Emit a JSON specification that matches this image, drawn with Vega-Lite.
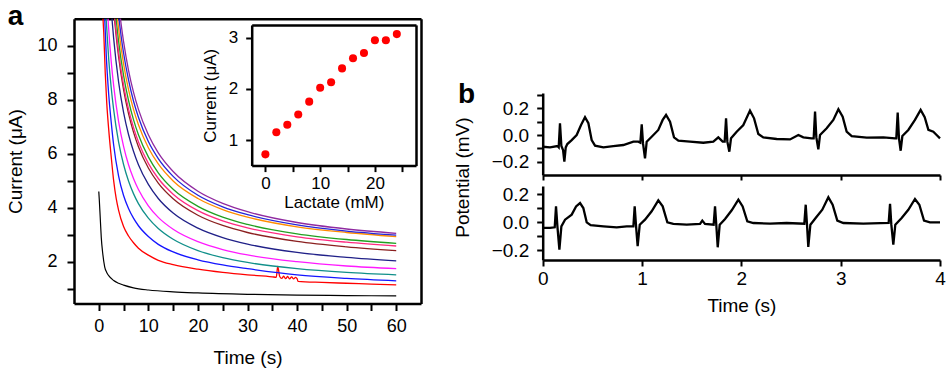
{
  "$schema": "https://vega.github.io/schema/vega-lite/v6.json",
  "width": 946,
  "height": 370,
  "autosize": "none",
  "padding": 0,
  "background": "white",
  "config": {
    "view": {"stroke": null},
    "axis": {
      "domainColor": "#000000", "tickColor": "#000000", "labelColor": "#000000", "titleColor": "#000000",
      "labelFont": "Liberation Sans", "titleFont": "Liberation Sans", "titleFontWeight": "normal",
      "grid": false, "labelFlush": false, "labelOverlap": false, "labelBound": false
    }
  },
  "datasets": {
    "curves": [
      {"curve":"black","time":0,"current":4.6},{"curve":"black","time":0.1,"current":4.3},{"curve":"black","time":0.3,"current":3.6},{"curve":"black","time":0.5,"current":2.9},{"curve":"black","time":0.8,"current":2.3},{"curve":"black","time":1.2,"current":1.8},{"curve":"black","time":1.6,"current":1.6},{"curve":"black","time":2,"current":1.48},{"curve":"black","time":3,"current":1.3},{"curve":"black","time":4,"current":1.2},{"curve":"black","time":5,"current":1.13},{"curve":"black","time":7,"current":1.03},{"curve":"black","time":10,"current":0.95},{"curve":"black","time":15,"current":0.88},{"curve":"black","time":20,"current":0.84},{"curve":"black","time":30,"current":0.79},{"curve":"black","time":40,"current":0.76},{"curve":"black","time":50,"current":0.745},{"curve":"black","time":60,"current":0.73},
      {"curve":"red","time":0.85,"current":11},{"curve":"red","time":1.0,"current":10.5},{"curve":"red","time":1.3,"current":9.0},{"curve":"red","time":1.6,"current":7.9},{"curve":"red","time":2.0,"current":6.9},{"curve":"red","time":2.5,"current":5.9},{"curve":"red","time":3,"current":5.0},{"curve":"red","time":3.5,"current":4.35},{"curve":"red","time":4,"current":3.9},{"curve":"red","time":5,"current":3.3},{"curve":"red","time":6,"current":2.95},{"curve":"red","time":7,"current":2.7},{"curve":"red","time":8,"current":2.5},{"curve":"red","time":10,"current":2.24},{"curve":"red","time":12,"current":2.05},{"curve":"red","time":15,"current":1.89},{"curve":"red","time":20,"current":1.72},{"curve":"red","time":25,"current":1.6},{"curve":"red","time":30,"current":1.51},{"curve":"red","time":35,"current":1.44},{"curve":"red","time":35.8,"current":1.42},{"curve":"red","time":36.1,"current":1.82},{"curve":"red","time":36.5,"current":1.45},{"curve":"red","time":36.9,"current":1.38},{"curve":"red","time":37.3,"current":1.46},{"curve":"red","time":37.7,"current":1.37},{"curve":"red","time":38.1,"current":1.45},{"curve":"red","time":38.5,"current":1.36},{"curve":"red","time":38.9,"current":1.44},{"curve":"red","time":39.3,"current":1.36},{"curve":"red","time":39.7,"current":1.42},{"curve":"red","time":40,"current":1.37},{"curve":"red","time":40.2,"current":1.27},{"curve":"red","time":45,"current":1.23},{"curve":"red","time":50,"current":1.2},{"curve":"red","time":55,"current":1.17},{"curve":"red","time":60,"current":1.14},
      {"curve":"blue","time":1.2,"current":11},{"curve":"blue","time":1.5,"current":9.67},{"curve":"blue","time":2,"current":8.2},{"curve":"blue","time":2.5,"current":7.18},{"curve":"blue","time":3,"current":6.32},{"curve":"blue","time":4,"current":5.17},{"curve":"blue","time":5,"current":4.45},{"curve":"blue","time":6,"current":3.97},{"curve":"blue","time":7,"current":3.61},{"curve":"blue","time":8,"current":3.33},{"curve":"blue","time":10,"current":2.93},{"curve":"blue","time":12,"current":2.64},{"curve":"blue","time":15,"current":2.36},{"curve":"blue","time":20,"current":2.07},{"curve":"blue","time":25,"current":1.88},{"curve":"blue","time":30,"current":1.74},{"curve":"blue","time":40,"current":1.51},{"curve":"blue","time":50,"current":1.38},{"curve":"blue","time":60,"current":1.29},
      {"curve":"teal","time":1.48,"current":11},{"curve":"teal","time":2,"current":9.51},{"curve":"teal","time":2.5,"current":8.45},{"curve":"teal","time":3,"current":7.63},{"curve":"teal","time":4,"current":6.43},{"curve":"teal","time":5,"current":5.6},{"curve":"teal","time":6,"current":4.99},{"curve":"teal","time":7,"current":4.52},{"curve":"teal","time":8,"current":4.15},{"curve":"teal","time":10,"current":3.61},{"curve":"teal","time":12,"current":3.23},{"curve":"teal","time":15,"current":2.83},{"curve":"teal","time":20,"current":2.41},{"curve":"teal","time":25,"current":2.15},{"curve":"teal","time":30,"current":1.97},{"curve":"teal","time":40,"current":1.74},{"curve":"teal","time":50,"current":1.6},{"curve":"teal","time":60,"current":1.51},
      {"curve":"magenta","time":1.86,"current":11},{"curve":"magenta","time":2,"current":10.61},{"curve":"magenta","time":2.5,"current":9.43},{"curve":"magenta","time":3,"current":8.52},{"curve":"magenta","time":4,"current":7.19},{"curve":"magenta","time":5,"current":6.27},{"curve":"magenta","time":6,"current":5.59},{"curve":"magenta","time":7,"current":5.08},{"curve":"magenta","time":8,"current":4.67},{"curve":"magenta","time":10,"current":4.07},{"curve":"magenta","time":12,"current":3.64},{"curve":"magenta","time":15,"current":3.2},{"curve":"magenta","time":20,"current":2.74},{"curve":"magenta","time":25,"current":2.45},{"curve":"magenta","time":30,"current":2.25},{"curve":"magenta","time":40,"current":2.0},{"curve":"magenta","time":50,"current":1.84},{"curve":"magenta","time":60,"current":1.74},
      {"curve":"navy","time":2.66,"current":11},{"curve":"navy","time":3,"current":10.27},{"curve":"navy","time":4,"current":8.65},{"curve":"navy","time":5,"current":7.53},{"curve":"navy","time":6,"current":6.71},{"curve":"navy","time":7,"current":6.09},{"curve":"navy","time":8,"current":5.59},{"curve":"navy","time":10,"current":4.86},{"curve":"navy","time":12,"current":4.34},{"curve":"navy","time":15,"current":3.8},{"curve":"navy","time":20,"current":3.24},{"curve":"navy","time":25,"current":2.89},{"curve":"navy","time":30,"current":2.65},{"curve":"navy","time":40,"current":2.34},{"curve":"navy","time":50,"current":2.16},{"curve":"navy","time":60,"current":2.03},
      {"curve":"brown","time":3.16,"current":11},{"curve":"brown","time":3.5,"current":10.37},{"curve":"brown","time":4,"current":9.58},{"curve":"brown","time":5,"current":8.37},{"curve":"brown","time":6,"current":7.48},{"curve":"brown","time":7,"current":6.8},{"curve":"brown","time":8,"current":6.26},{"curve":"brown","time":10,"current":5.47},{"curve":"brown","time":12,"current":4.91},{"curve":"brown","time":15,"current":4.33},{"curve":"brown","time":20,"current":3.72},{"curve":"brown","time":25,"current":3.34},{"curve":"brown","time":30,"current":3.08},{"curve":"brown","time":40,"current":2.75},{"curve":"brown","time":50,"current":2.55},{"curve":"brown","time":60,"current":2.41},
      {"curve":"pink","time":3.25,"current":11},{"curve":"pink","time":3.5,"current":10.54},{"curve":"pink","time":4,"current":9.75},{"curve":"pink","time":5,"current":8.54},{"curve":"pink","time":6,"current":7.65},{"curve":"pink","time":7,"current":6.97},{"curve":"pink","time":8,"current":6.43},{"curve":"pink","time":10,"current":5.64},{"curve":"pink","time":12,"current":5.08},{"curve":"pink","time":15,"current":4.5},{"curve":"pink","time":20,"current":3.89},{"curve":"pink","time":25,"current":3.51},{"curve":"pink","time":30,"current":3.25},{"curve":"pink","time":40,"current":2.92},{"curve":"pink","time":50,"current":2.72},{"curve":"pink","time":60,"current":2.58},
      {"curve":"green","time":3.49,"current":11},{"curve":"green","time":4,"current":10.16},{"curve":"green","time":5,"current":8.9},{"curve":"green","time":6,"current":7.97},{"curve":"green","time":7,"current":7.26},{"curve":"green","time":8,"current":6.7},{"curve":"green","time":10,"current":5.88},{"curve":"green","time":12,"current":5.29},{"curve":"green","time":15,"current":4.68},{"curve":"green","time":20,"current":4.05},{"curve":"green","time":25,"current":3.65},{"curve":"green","time":30,"current":3.38},{"curve":"green","time":40,"current":3.03},{"curve":"green","time":50,"current":2.82},{"curve":"green","time":60,"current":2.68},
      {"curve":"orange","time":3.77,"current":11},{"curve":"orange","time":4,"current":10.63},{"curve":"orange","time":5,"current":9.33},{"curve":"orange","time":6,"current":8.37},{"curve":"orange","time":7,"current":7.64},{"curve":"orange","time":8,"current":7.07},{"curve":"orange","time":10,"current":6.22},{"curve":"orange","time":12,"current":5.62},{"curve":"orange","time":15,"current":4.99},{"curve":"orange","time":20,"current":4.34},{"curve":"orange","time":25,"current":3.93},{"curve":"orange","time":30,"current":3.65},{"curve":"orange","time":40,"current":3.29},{"curve":"orange","time":50,"current":3.08},{"curve":"orange","time":60,"current":2.93},
      {"curve":"darkblue","time":4.07,"current":11},{"curve":"darkblue","time":4.5,"current":10.36},{"curve":"darkblue","time":5,"current":9.73},{"curve":"darkblue","time":6,"current":8.73},{"curve":"darkblue","time":7,"current":7.95},{"curve":"darkblue","time":8,"current":7.35},{"curve":"darkblue","time":10,"current":6.45},{"curve":"darkblue","time":12,"current":5.82},{"curve":"darkblue","time":15,"current":5.16},{"curve":"darkblue","time":20,"current":4.46},{"curve":"darkblue","time":25,"current":4.03},{"curve":"darkblue","time":30,"current":3.74},{"curve":"darkblue","time":40,"current":3.36},{"curve":"darkblue","time":50,"current":3.13},{"curve":"darkblue","time":60,"current":2.98},
      {"curve":"purple","time":4.37,"current":11},{"curve":"purple","time":4.5,"current":10.81},{"curve":"purple","time":5,"current":10.15},{"curve":"purple","time":6,"current":9.09},{"curve":"purple","time":7,"current":8.28},{"curve":"purple","time":8,"current":7.64},{"curve":"purple","time":10,"current":6.7},{"curve":"purple","time":12,"current":6.03},{"curve":"purple","time":15,"current":5.34},{"curve":"purple","time":20,"current":4.61},{"curve":"purple","time":25,"current":4.16},{"curve":"purple","time":30,"current":3.85},{"curve":"purple","time":40,"current":3.45},{"curve":"purple","time":50,"current":3.21},{"curve":"purple","time":60,"current":3.05}
    ],
    "inset": [
      {"lactate":0,"current":0.72},{"lactate":2,"current":1.15},{"lactate":4,"current":1.3},{"lactate":6,"current":1.5},{"lactate":8,"current":1.75},{"lactate":10,"current":2.02},{"lactate":12,"current":2.13},{"lactate":14,"current":2.4},{"lactate":16,"current":2.6},{"lactate":18,"current":2.7},{"lactate":20,"current":2.95},{"lactate":22,"current":2.95},{"lactate":24,"current":3.07}
    ],
    "ecg": [
      {"trace":"top","t":0,"v":-0.088},{"trace":"top","t":0.074,"v":-0.093},{"trace":"top","t":0.148,"v":-0.083},{"trace":"top","t":0.161,"v":-0.093},{"trace":"top","t":0.174,"v":0.088},{"trace":"top","t":0.188,"v":-0.083},{"trace":"top","t":0.205,"v":-0.113},{"trace":"top","t":0.218,"v":-0.2},{"trace":"top","t":0.232,"v":-0.093},{"trace":"top","t":0.248,"v":-0.068},{"trace":"top","t":0.292,"v":-0.038},{"trace":"top","t":0.342,"v":0.0},{"trace":"top","t":0.386,"v":0.075},{"trace":"top","t":0.426,"v":0.133},{"trace":"top","t":0.46,"v":0.088},{"trace":"top","t":0.493,"v":-0.038},{"trace":"top","t":0.527,"v":-0.08},{"trace":"top","t":0.611,"v":-0.093},{"trace":"top","t":0.711,"v":-0.083},{"trace":"top","t":0.812,"v":-0.075},{"trace":"top","t":0.913,"v":-0.05},{"trace":"top","t":0.963,"v":-0.05},
      {"trace":"top","t":0.983,"v":-0.058},{"trace":"top","t":0.997,"v":0.08},{"trace":"top","t":1.01,"v":-0.063},{"trace":"top","t":1.03,"v":-0.175},{"trace":"top","t":1.047,"v":-0.05},{"trace":"top","t":1.097,"v":-0.013},{"trace":"top","t":1.164,"v":0.038},{"trace":"top","t":1.208,"v":0.113},{"trace":"top","t":1.242,"v":0.15},{"trace":"top","t":1.282,"v":0.1},{"trace":"top","t":1.322,"v":-0.018},{"trace":"top","t":1.366,"v":-0.043},{"trace":"top","t":1.483,"v":-0.05},{"trace":"top","t":1.617,"v":-0.058},{"trace":"top","t":1.718,"v":-0.05},{"trace":"top","t":1.768,"v":-0.018},{"trace":"top","t":1.812,"v":-0.05},
      {"trace":"top","t":1.832,"v":-0.05},{"trace":"top","t":1.846,"v":0.125},{"trace":"top","t":1.859,"v":-0.05},{"trace":"top","t":1.879,"v":-0.125},{"trace":"top","t":1.896,"v":-0.025},{"trace":"top","t":1.953,"v":0.025},{"trace":"top","t":2.02,"v":0.075},{"trace":"top","t":2.087,"v":0.183},{"trace":"top","t":2.128,"v":0.125},{"trace":"top","t":2.171,"v":0.008},{"trace":"top","t":2.221,"v":-0.018},{"trace":"top","t":2.356,"v":-0.03},{"trace":"top","t":2.49,"v":-0.033},{"trace":"top","t":2.574,"v":0.0},{"trace":"top","t":2.624,"v":-0.018},{"trace":"top","t":2.708,"v":-0.025},
      {"trace":"top","t":2.728,"v":-0.025},{"trace":"top","t":2.742,"v":0.175},{"trace":"top","t":2.755,"v":-0.018},{"trace":"top","t":2.775,"v":-0.108},{"trace":"top","t":2.792,"v":0.0},{"trace":"top","t":2.859,"v":0.05},{"trace":"top","t":2.926,"v":0.113},{"trace":"top","t":2.977,"v":0.193},{"trace":"top","t":3.02,"v":0.138},{"trace":"top","t":3.06,"v":0.025},{"trace":"top","t":3.111,"v":-0.008},{"trace":"top","t":3.262,"v":-0.02},{"trace":"top","t":3.43,"v":-0.018},{"trace":"top","t":3.547,"v":-0.025},
      {"trace":"top","t":3.56,"v":-0.025},{"trace":"top","t":3.574,"v":0.168},{"trace":"top","t":3.587,"v":-0.025},{"trace":"top","t":3.604,"v":-0.118},{"trace":"top","t":3.621,"v":-0.008},{"trace":"top","t":3.681,"v":0.038},{"trace":"top","t":3.748,"v":0.113},{"trace":"top","t":3.805,"v":0.188},{"trace":"top","t":3.846,"v":0.133},{"trace":"top","t":3.883,"v":0.038},{"trace":"top","t":3.933,"v":0.025},{"trace":"top","t":3.966,"v":0.0},{"trace":"top","t":4.0,"v":-0.025},
      {"trace":"bottom","t":0,"v":-0.04},{"trace":"bottom","t":0.074,"v":-0.04},{"trace":"bottom","t":0.121,"v":-0.036},{"trace":"bottom","t":0.134,"v":0.114},{"trace":"bottom","t":0.148,"v":-0.029},{"trace":"bottom","t":0.168,"v":-0.195},{"trace":"bottom","t":0.188,"v":-0.029},{"trace":"bottom","t":0.225,"v":0.019},{"trace":"bottom","t":0.292,"v":0.055},{"trace":"bottom","t":0.336,"v":0.114},{"trace":"bottom","t":0.376,"v":0.138},{"trace":"bottom","t":0.409,"v":0.102},{"trace":"bottom","t":0.443,"v":0.0},{"trace":"bottom","t":0.483,"v":-0.021},{"trace":"bottom","t":0.611,"v":-0.029},{"trace":"bottom","t":0.745,"v":-0.036},{"trace":"bottom","t":0.846,"v":-0.029},{"trace":"bottom","t":0.913,"v":-0.029},
      {"trace":"bottom","t":0.926,"v":0.114},{"trace":"bottom","t":0.94,"v":-0.029},{"trace":"bottom","t":0.956,"v":-0.171},{"trace":"bottom","t":0.977,"v":-0.017},{"trace":"bottom","t":1.03,"v":0.019},{"trace":"bottom","t":1.097,"v":0.079},{"trace":"bottom","t":1.164,"v":0.157},{"trace":"bottom","t":1.208,"v":0.114},{"trace":"bottom","t":1.255,"v":0.0},{"trace":"bottom","t":1.315,"v":-0.012},{"trace":"bottom","t":1.45,"v":-0.017},{"trace":"bottom","t":1.584,"v":-0.012},{"trace":"bottom","t":1.607,"v":0.012},{"trace":"bottom","t":1.634,"v":-0.012},{"trace":"bottom","t":1.721,"v":-0.017},
      {"trace":"bottom","t":1.735,"v":0.114},{"trace":"bottom","t":1.748,"v":-0.021},{"trace":"bottom","t":1.762,"v":-0.179},{"trace":"bottom","t":1.782,"v":-0.017},{"trace":"bottom","t":1.836,"v":0.024},{"trace":"bottom","t":1.903,"v":0.086},{"trace":"bottom","t":1.97,"v":0.162},{"trace":"bottom","t":2.013,"v":0.114},{"trace":"bottom","t":2.06,"v":0.007},{"trace":"bottom","t":2.121,"v":-0.005},{"trace":"bottom","t":2.289,"v":-0.01},{"trace":"bottom","t":2.456,"v":-0.005},{"trace":"bottom","t":2.634,"v":-0.01},
      {"trace":"bottom","t":2.648,"v":0.126},{"trace":"bottom","t":2.661,"v":-0.017},{"trace":"bottom","t":2.674,"v":-0.176},{"trace":"bottom","t":2.695,"v":-0.017},{"trace":"bottom","t":2.748,"v":0.031},{"trace":"bottom","t":2.815,"v":0.09},{"trace":"bottom","t":2.876,"v":0.179},{"trace":"bottom","t":2.919,"v":0.126},{"trace":"bottom","t":2.966,"v":0.012},{"trace":"bottom","t":3.027,"v":-0.005},{"trace":"bottom","t":3.228,"v":-0.01},{"trace":"bottom","t":3.483,"v":-0.005},
      {"trace":"bottom","t":3.497,"v":0.133},{"trace":"bottom","t":3.51,"v":-0.017},{"trace":"bottom","t":3.53,"v":-0.16},{"trace":"bottom","t":3.55,"v":-0.017},{"trace":"bottom","t":3.614,"v":0.031},{"trace":"bottom","t":3.681,"v":0.09},{"trace":"bottom","t":3.748,"v":0.167},{"trace":"bottom","t":3.792,"v":0.126},{"trace":"bottom","t":3.839,"v":0.012},{"trace":"bottom","t":3.899,"v":0.0},{"trace":"bottom","t":4.0,"v":0.0}
    ]
  },
  "resolve": {
    "scale": {"x": "independent", "y": "independent", "color": "independent"},
    "axis": {"x": "independent", "y": "independent"}
  },
  "layer": [
    {
      "data": {"name": "curves"},
      "transform": [{"filter": "datum.curve !== 'black'"}],
      "mark": {"type": "line", "interpolate": "monotone", "strokeWidth": 1.3},
      "encoding": {
        "x": {"field": "time", "type": "quantitative",
          "scale": {"domain": [-5, 65], "range": [74, 421], "nice": false, "zero": false},
          "axis": {"orient": "bottom", "offset": -66.5, "values": [0,5,10,15,20,25,30,35,40,45,50,55,60],
            "labelExpr": "datum.value % 10 === 0 ? datum.label : ''", "title": "Time (s)",
            "tickSize": 7, "tickWidth": 2, "domainWidth": 2.5, "labelFontSize": 18, "titleFontSize": 19,
            "labelPadding": 7, "titlePadding": 13}},
        "y": {"field": "current", "type": "quantitative",
          "scale": {"domain": [0.45, 11], "range": [303.5, 18.7], "nice": false, "zero": false},
          "axis": {"orient": "left", "offset": -74, "values": [1,2,3,4,5,6,7,8,9,10],
            "labelExpr": "datum.value % 2 === 0 ? datum.label : ''", "title": "Current (μA)",
            "tickSize": 7, "tickWidth": 2, "domainWidth": 2.5, "labelFontSize": 18, "titleFontSize": 19,
            "labelPadding": 10, "titlePadding": 11}},
        "color": {"field": "curve", "type": "nominal", "legend": null,
          "scale": {"domain": ["red","blue","teal","magenta","navy","brown","pink","green","orange","darkblue","purple"],
            "range": ["#ff0000","#1515ff","#11908a","#ff1aff","#202088","#8b2020","#ff2a80","#22a022","#ff8c00","#2424d8","#902aa0"]}}
      }
    },
    {
      "data": {"name": "curves"},
      "transform": [{"filter": "datum.curve === 'black'"}],
      "mark": {"type": "line", "interpolate": "monotone", "strokeWidth": 1.2, "color": "#000000"},
      "encoding": {
        "x": {"field": "time", "type": "quantitative",
          "scale": {"domain": [-5, 65], "range": [74, 421], "nice": false, "zero": false},
          "axis": {"orient": "top", "offset": -18.7, "labels": false, "ticks": false, "domainWidth": 2.5,
            "title": "a", "titleX": 15, "titleY": 6, "titleAngle": 0, "titleAlign": "center",
            "titleBaseline": "alphabetic", "titleFontSize": 28, "titleFontWeight": "bold"}},
        "y": {"field": "current", "type": "quantitative",
          "scale": {"domain": [0.45, 11], "range": [303.5, 18.7], "nice": false, "zero": false},
          "axis": {"orient": "right", "offset": -525, "labels": false, "ticks": false, "domainWidth": 2.5, "title": null}}
      }
    },
    {
      "data": {"name": "inset"},
      "mark": {"type": "circle", "size": 65, "color": "#ff0000", "opacity": 1},
      "encoding": {
        "x": {"field": "lactate", "type": "quantitative",
          "scale": {"domain": [-2.5, 27.5], "range": [251.7, 416], "nice": false, "zero": false},
          "axis": {"orient": "bottom", "offset": -204.4, "values": [0,5,10,15,20,25], "format": "d",
            "labelExpr": "datum.value % 10 === 0 ? datum.label : ''", "title": "Lactate (mM)",
            "tickSize": 6, "tickWidth": 2, "domainWidth": 2.5, "labelFontSize": 17, "titleFontSize": 17,
            "labelPadding": 4, "titlePadding": 3}},
        "y": {"field": "current", "type": "quantitative",
          "scale": {"domain": [0.5, 3.25], "range": [165.6, 24.9], "nice": false, "zero": false},
          "axis": {"orient": "left", "offset": -251.7, "values": [1,1.5,2,2.5,3], "format": "d",
            "labelExpr": "datum.value % 1 === 0 ? datum.label : ''", "title": "Current (μA)",
            "tickSize": 6, "tickWidth": 2, "domainWidth": 2.5, "labelFontSize": 17, "titleFontSize": 17,
            "labelPadding": 8, "titlePadding": 9}}
      }
    },
    {
      "data": {"name": "inset"},
      "mark": {"type": "circle", "opacity": 0},
      "encoding": {
        "x": {"field": "lactate", "type": "quantitative",
          "scale": {"domain": [-2.5, 27.5], "range": [251.7, 416], "nice": false, "zero": false},
          "axis": {"orient": "top", "offset": -24.9, "labels": false, "ticks": false, "domainWidth": 2.5, "title": null}},
        "y": {"field": "current", "type": "quantitative",
          "scale": {"domain": [0.5, 3.25], "range": [165.6, 24.9], "nice": false, "zero": false},
          "axis": {"orient": "right", "offset": -530, "labels": false, "ticks": false, "domainWidth": 2.5, "title": null}}
      }
    },
    {
      "data": {"name": "ecg"},
      "transform": [{"filter": "datum.trace === 'top'"}],
      "mark": {"type": "line", "strokeWidth": 2.3, "color": "#000000"},
      "encoding": {
        "x": {"field": "t", "type": "quantitative",
          "scale": {"domain": [0, 4], "range": [542.7, 940], "nice": false, "zero": false},
          "axis": {"orient": "bottom", "offset": -195, "values": [0,1,2,3,4], "labels": false,
            "tickSize": 5, "tickWidth": 2, "domainWidth": 2.5,
            "title": "b", "titleX": 466, "titleY": -73, "titleAngle": 0, "titleAlign": "center",
            "titleBaseline": "alphabetic", "titleFontSize": 28, "titleFontWeight": "bold"}},
        "y": {"field": "v", "type": "quantitative",
          "scale": {"domain": [-0.3, 0.315], "range": [175, 93], "nice": false, "zero": false},
          "axis": {"orient": "left", "offset": -542.7, "values": [-0.2,-0.1,0,0.1,0.2,0.3], "format": ".1f",
            "labelExpr": "abs(datum.value) > 0.25 || abs(abs(datum.value) - 0.1) < 0.01 ? '' : datum.label",
            "tickSize": 6, "tickWidth": 2, "domainWidth": 2.5, "labelFontSize": 19, "labelPadding": 8, "title": null}}
      }
    },
    {
      "data": {"name": "ecg"},
      "transform": [{"filter": "datum.trace === 'bottom'"}],
      "mark": {"type": "line", "strokeWidth": 2.3, "color": "#000000"},
      "encoding": {
        "x": {"field": "t", "type": "quantitative",
          "scale": {"domain": [0, 4], "range": [542.7, 940], "nice": false, "zero": false},
          "axis": {"orient": "bottom", "offset": -110, "values": [0,0.5,1,1.5,2,2.5,3,3.5,4], "format": "d",
            "labelExpr": "datum.value % 1 === 0 ? datum.label : ''", "title": "Time (s)",
            "tickSize": 6, "tickWidth": 2, "domainWidth": 2.5, "labelFontSize": 19, "titleFontSize": 19,
            "labelPadding": 3, "titlePadding": 8}},
        "y": {"field": "v", "type": "quantitative",
          "scale": {"domain": [-0.27, 0.26], "range": [260, 186], "nice": false, "zero": false},
          "axis": {"orient": "left", "offset": -542.7, "values": [-0.2,-0.1,0,0.1,0.2], "format": ".1f",
            "labelExpr": "abs(abs(datum.value) - 0.1) < 0.01 ? '' : datum.label",
            "tickSize": 6, "tickWidth": 2, "domainWidth": 2.5, "labelFontSize": 19, "labelPadding": 8,
            "title": "Potential (mV)", "titleFontSize": 19, "titleX": -70, "titleY": 177,
            "titleAngle": -90, "titleAlign": "center", "titleBaseline": "bottom"}}
      }
    }
  ]
}
